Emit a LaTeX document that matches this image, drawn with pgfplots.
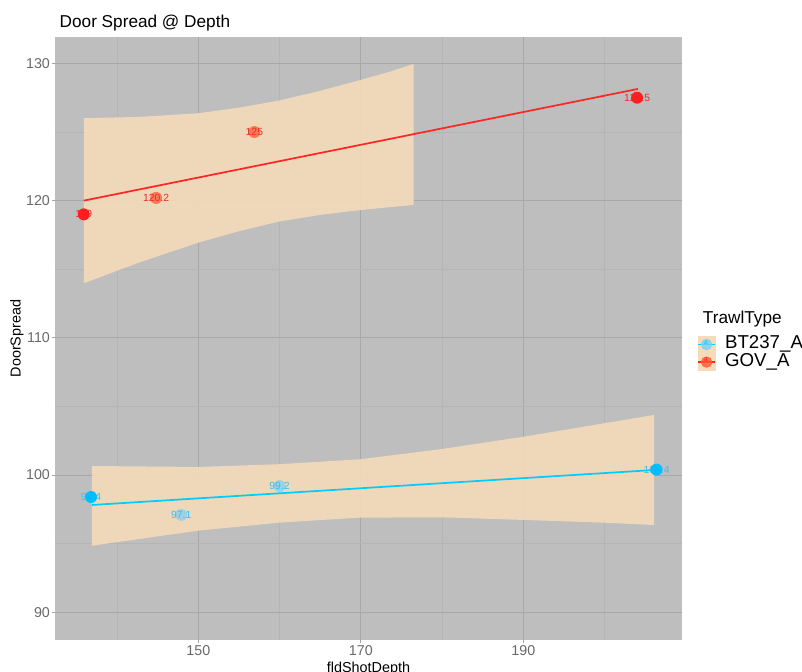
\documentclass[border=0pt]{standalone}
\usepackage{fontspec}
\setmainfont{Liberation Sans}
\usepackage{pgfplots}
\pgfplotsset{compat=1.18}
\usepgfplotslibrary{fillbetween}

\definecolor{panel}{RGB}{190,190,190}
\definecolor{gridmaj}{RGB}{168,168,168}
\definecolor{gridmin}{RGB}{181,181,181}
\definecolor{ribbon}{RGB}{245,219,186}
\definecolor{redline}{RGB}{255,38,38}
\definecolor{redpt}{RGB}{255,30,30}
\definecolor{redlt}{RGB}{255,90,50}
\definecolor{redtxt}{RGB}{235,45,45}
\definecolor{blueline}{RGB}{0,204,255}
\definecolor{bluept}{RGB}{0,190,255}
\definecolor{bluelt}{RGB}{120,210,245}
\definecolor{bluetxt}{RGB}{60,190,235}
\definecolor{ticktext}{RGB}{105,105,105}

\pgfplotsset{
  lbl/.style={only marks, mark=none, forget plot, nodes near coords, point meta=explicit symbolic,
    every node near coord/.append style={anchor=center, font=\fontsize{7.8}{8}\selectfont, text=#1, inner sep=0pt}},
  pts/.style 2 args={only marks, mark=*, mark size=4.5pt, color=#1, forget plot,
    mark options={fill=#1, draw opacity=0, fill opacity=#2}},
}

\begin{document}
\begin{tikzpicture}
\begin{axis}[
    at={(41.25pt,23.25pt)}, anchor=south west,
    scale only axis, width=470.5pt, height=452.5pt,
    xmin=132.36, xmax=209.57, ymin=87.98, ymax=131.95,
    axis background/.style={fill=panel},
    axis line style={draw=none},
    xtick={150,170,190}, minor xtick={140,160,180,200},
    ytick={90,100,110,120,130}, minor ytick={95,105,115,125},
    tick pos=left,
    grid=both,
    major grid style={gridmaj, line width=0.8pt},
    minor grid style={gridmin, line width=0.5pt},
    tick align=outside, major tick length=2.6pt, minor tick length=0pt,
    tick style={color=ticktext!60, line width=0.6pt},
    ticklabel style={font=\fontsize{10.7}{12}\selectfont, text=ticktext, inner sep=1pt},
    /pgf/number format/assume math mode=true,
    legend style={at={(1.0239,0.5042)}, anchor=north west, draw=none, fill=none,
        inner sep=0pt, outer sep=0pt, row sep=0pt, column sep=7pt,
        font=\fontsize{14}{14}\selectfont,
        nodes={inner sep=0pt, text height=9.5pt, text depth=3pt}},
    legend cell align=left,
]

% confidence ribbons
\addplot[draw=none, forget plot, name path=gtop] coordinates {
    (135.9,126.01) (142.8,126.10) (150.0,126.37) (155.1,126.78) (159.9,127.29)
    (165.0,128.00) (170.0,128.80) (173.6,129.40) (176.5,129.96)};
\addplot[draw=none, forget plot, name path=gbot] coordinates {
    (135.9,113.98) (142.8,115.51) (150.0,116.94) (155.1,117.79) (159.9,118.47)
    (165.0,118.96) (170.0,119.32) (176.5,119.69)};
\addplot[ribbon, fill opacity=0.9, forget plot] fill between[of=gtop and gbot];

\addplot[draw=none, forget plot, name path=btop] coordinates {
    (136.9,100.66) (150.0,100.59) (159.9,100.79) (169.9,101.15) (180.0,101.90)
    (190.1,102.80) (200.0,103.78) (206.1,104.38)};
\addplot[draw=none, forget plot, name path=bbot] coordinates {
    (136.9,94.85) (150.0,95.95) (159.9,96.53) (169.9,96.90) (180.0,96.92)
    (190.1,96.73) (200.0,96.53) (206.1,96.36)};
\addplot[ribbon, fill opacity=0.9, forget plot] fill between[of=btop and bbot];

% fitted lines
\addplot[redline, line width=1.3pt, forget plot] coordinates {(135.9,120.0) (204.1,128.14)};
\addplot[blueline, line width=1.3pt, forget plot] coordinates {(136.9,97.82) (206.1,100.37)};

% faint points
\addplot[pts={redlt}{0.75}] coordinates {(144.8,120.2) (156.9,125.0)};
\addplot[pts={bluelt}{0.7}] coordinates {(147.9,97.1) (160.0,99.2)};

% value labels
\addplot[lbl=redtxt] table[meta=lab] {
x y lab
135.9 119.0 119
144.8 120.2 120.2
156.9 125.0 125
204.0 127.5 127.5
};
\addplot[lbl=bluetxt] table[meta=lab] {
x y lab
136.8 98.4 98.4
147.9 97.1 97.1
160.0 99.2 99.2
206.4 100.4 100.4
};

% solid points
\addplot[pts={redpt}{1}] coordinates {(135.9,119.0) (204.0,127.5)};
\addplot[pts={bluept}{1}] coordinates {(136.8,98.4) (206.4,100.4)};

% legend keys
\addlegendimage{legend image code/.code={
    \fill[ribbon] (0pt,-6.375pt) rectangle (12.75pt,6.375pt);
    \draw[blueline, line width=1.1pt] (0pt,0pt) -- (12.75pt,0pt);
    \fill[bluelt, fill opacity=0.8] (6.375pt,0pt) circle (4pt);}}
\addlegendentry{BT237\_A}
\addlegendimage{legend image code/.code={
    \fill[ribbon] (0pt,-6.375pt) rectangle (12.75pt,6.375pt);
    \draw[redline, line width=1.1pt] (0pt,0pt) -- (12.75pt,0pt);
    \fill[redlt, fill opacity=0.8] (6.375pt,0pt) circle (4pt);}}
\addlegendentry{GOV\_A}
\end{axis}

\node[anchor=base west, font=\fontsize{12.9}{14}\selectfont] at (41.25pt,482.8pt) {Door Spread @ Depth};
\node[rotate=90, font=\fontsize{10.8}{12}\selectfont] at (12.75pt,249.4pt) {DoorSpread};
\node[anchor=base, font=\fontsize{10.8}{12}\selectfont] at (276.4pt,-0.75pt) {fldShotDepth};
\node[anchor=base west, font=\fontsize{12.9}{14}\selectfont] at (523.7pt,260.25pt) {TrawlType};
\node[font=\fontsize{5}{5}\selectfont, text=blueline, inner sep=0pt] at (529.5pt,246.4pt) {a};
\node[font=\fontsize{5}{5}\selectfont, text=redline, inner sep=0pt] at (529.5pt,233.6pt) {a};
\pgfresetboundingbox
\path[use as bounding box] (0,0) rectangle (601.5pt,503.25pt);
\end{tikzpicture}
\end{document}
